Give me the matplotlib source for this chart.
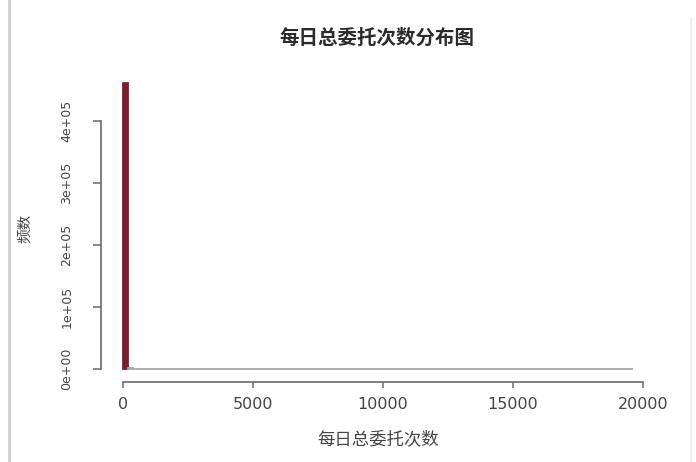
import numpy as np
import matplotlib
matplotlib.use("Agg")
import matplotlib.pyplot as plt
from matplotlib.lines import Line2D

# ---- data ----
bin_width = 200
bin_left = np.arange(0, 19600, bin_width)          # histogram bin left edges
counts = [461000, 1200, 300, 80, 20, 5] + [0] * 92  # estimated counts per bin
x_ticks = [0, 5000, 10000, 15000, 20000]
x_tick_labels = ["0", "5000", "10000", "15000", "20000"]
y_ticks = [0, 100000, 200000, 300000, 400000]
y_tick_labels = ["0e+00", "1e+05", "2e+05", "3e+05", "4e+05"]
title = "每日总委托次数分布图"
xlabel = "每日总委托次数"
ylabel = "频数"

W, H = 696, 462
fig = plt.figure(figsize=(W / 100, H / 100), dpi=100)
fig.patch.set_facecolor("white")

ax = fig.add_axes([101 / W, (H - 382) / H, 552 / W, (382 - 71.8) / H])
ax.set_facecolor("white")

bar_col = "#7B1E2B"
edge_cols = [bar_col if c > 0 and i == 0 else "#a8a8a8" for i, c in enumerate(counts)]
ax.bar(bin_left, counts, width=bin_width, align="edge", color=bar_col,
       edgecolor=edge_cols, linewidth=1.3)

ax.set_xlim(-846, 20384)
ax.set_ylim(-20970, 479440)

for s in ("top", "right"):
    ax.spines[s].set_visible(False)
axis_col = "#6a6a6a"
for s in ("left", "bottom"):
    ax.spines[s].set_color(axis_col)
    ax.spines[s].set_linewidth(1.2)
ax.spines["left"].set_bounds(0, 400000)
ax.spines["bottom"].set_bounds(0, 20000)

ax.set_xticks(x_ticks)
ax.set_xticklabels(x_tick_labels, fontsize=11.5, color="#444444", family="DejaVu Sans")
ax.set_yticks(y_ticks)
ax.set_yticklabels(y_tick_labels, fontsize=9, color="#444444", family="DejaVu Sans",
                   rotation=90, va="center")
ax.tick_params(axis="x", direction="out", length=4.5, width=1.1, color=axis_col, pad=6)
ax.tick_params(axis="y", direction="out", length=5.8, width=1.1, color=axis_col, pad=14)

cjk = ["Noto Sans CJK SC", "DejaVu Sans"]
fig.text(377 / W, 1 - 38 / H, title, ha="center", va="center", fontsize=14,
         fontweight="bold", color="#2a2a2a", family=cjk)
fig.text(378 / W, 1 - 439 / H, xlabel, ha="center", va="center", fontsize=12.5,
         color="#444444", family=cjk)
fig.text(25 / W, 1 - 228 / H, ylabel, ha="center", va="center", fontsize=10.5,
         rotation=90, color="#444444", family=cjk)

fig.add_artist(Line2D([8.5 / W, 8.5 / W], [0, 1], transform=fig.transFigure,
                      color="#cfcfcf", linewidth=2))
fig.add_artist(Line2D([691 / W, 691 / W], [0, 0.96], transform=fig.transFigure,
                      color="#f0f0f0", linewidth=1.5))

fig.savefig("out.png", dpi=100, facecolor="white")
